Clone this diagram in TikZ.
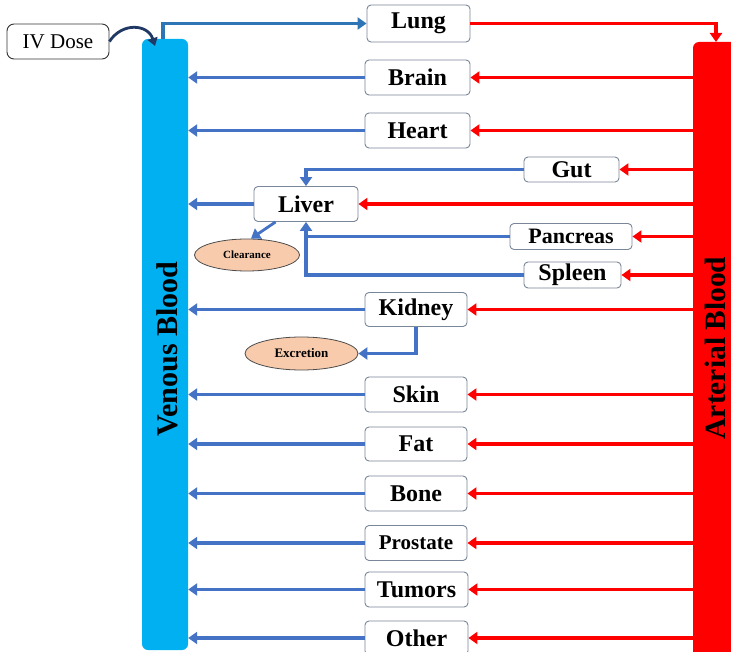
\documentclass[tikz,border=0pt]{standalone}
\usepackage{fontspec}
\setmainfont{Liberation Serif}
\usetikzlibrary{arrows.meta,shapes.geometric}
\definecolor{venc}{HTML}{00B0F0}
\definecolor{artc}{HTML}{FF0000}
\definecolor{bluec}{HTML}{4472C4}
\definecolor{lungc}{HTML}{2E75B6}
\definecolor{navyc}{HTML}{203864}
\definecolor{boxc}{HTML}{7A8798}
\definecolor{ellc}{HTML}{F8CBAD}
\tikzset{
  organ/.style={draw=boxc, line width=0.9pt, rounded corners=4pt, fill=white, inner sep=0pt,
    font=\fontsize{24}{27}\selectfont\bfseries},
  outlet/.style={ellipse, draw=black!70, line width=0.8pt, fill=ellc, inner sep=0pt},
  bar/.style={rounded corners=6pt, inner sep=0pt},
  bartext/.style={rotate=90, inner sep=0pt, anchor=base},
  blueline/.style={draw=bluec, line width=3.3pt},
  bluearr/.style={blueline, -{Triangle[length=9pt,width=12pt]}},
  redarr/.style={draw=artc, line width=3.3pt, -{Triangle[length=9pt,width=12pt]}},
}
\begin{document}
\begin{tikzpicture}[x=1pt,y=-1pt]
\clip (0,0) rectangle (731,652);
\fill[white] (0,0) rectangle (731,652);
% bars
\node[bar, fill=venc, minimum width=46pt, minimum height=611pt] (ven) at (165,344.5) {};
\node[bar, fill=artc, minimum width=50pt, minimum height=630pt] (art) at (718,357) {};
\node[bartext, font=\fontsize{30}{33}\selectfont\bfseries] (ventext) at (177,349) {Venous Blood};
\node[bartext, font=\fontsize{29.5}{32}\selectfont\bfseries] (arttext) at (725,348) {Arterial Blood};
% IV dose
\node[draw=black!80, line width=0.9pt, rounded corners=7pt, minimum width=102pt, minimum height=35pt, inner sep=0pt,
  font=\fontsize{21}{24}\selectfont] (iv) at (58,41.5) {IV Dose};
\coordinate (ivend) at (155,46);
\draw[navyc, line width=2.8pt, -{Triangle[length=8pt,width=10pt]}] (iv.east) .. controls (122,22) and (148,24) .. (ivend);
% organs
\node[organ, minimum width=103pt, minimum height=37pt] (lung) at (418.5,23.5) {Lung};
\node[organ, minimum width=105pt, minimum height=35pt] (brain) at (417.5,77.5) {Brain};
\node[organ, minimum width=105pt, minimum height=35pt] (heart) at (417.5,130.5) {Heart};
\node[organ, minimum width=95pt, minimum height=25pt] (gut) at (571.5,169.5) {Gut};
\node[organ, minimum width=104pt, minimum height=35pt] (liver) at (306,204) {Liver};
\node[organ, minimum width=122pt, minimum height=26pt, font=\fontsize{22}{25}\selectfont\bfseries] (pancreas) at (571,236.5) {Pancreas};
\node[organ, minimum width=97pt, minimum height=26pt] (spleen) at (572.5,275) {Spleen};
\node[organ, minimum width=102pt, minimum height=34pt] (kidney) at (416,309.5) {Kidney};
\node[organ, minimum width=102pt, minimum height=35pt] (skin) at (416,394.5) {Skin};
\node[organ, minimum width=102pt, minimum height=34pt] (fat) at (416,444) {Fat};
\node[organ, minimum width=102pt, minimum height=35pt] (bone) at (416,493.5) {Bone};
\node[organ, minimum width=102pt, minimum height=35pt, font=\fontsize{21}{24}\selectfont\bfseries] (prostate) at (416,543) {Prostate};
\node[organ, minimum width=103pt, minimum height=35pt] (tumors) at (416.5,589.5) {Tumors};
\node[organ, minimum width=103pt, minimum height=34pt] (other) at (416.5,638) {Other};
% outlets
\node[outlet, minimum width=105pt, minimum height=32pt, font=\fontsize{11}{13}\selectfont\bfseries] (clear) at (247,255) {Clearance};
\node[outlet, minimum width=113pt, minimum height=33pt, font=\fontsize{13}{15}\selectfont\bfseries] (excr) at (301.5,353.5) {Excretion};
% lung loop
\coordinate (vtop) at (163,39);
\coordinate (atop) at (716,42);
\draw[lungc, line width=3.3pt, -{Triangle[length=9pt,width=12pt]}] (vtop) |- (lung.west);
\draw[redarr] (lung.east) -| (atop);
% organs with arterial in and venous out
\foreach \o in {brain,heart,kidney,skin,fat,bone,prostate,tumors,other,liver}{
  \draw[redarr] (\o.east -| art.west) -- (\o.east);
  \draw[bluearr] (\o.west) -- (\o.west -| ven.east);
}
% splanchnic organs
\foreach \o in {gut,pancreas,spleen}{
  \draw[redarr] (\o.east -| art.west) -- (\o.east);
}
\draw[bluearr] (gut.west) -| (liver.north);
\draw[blueline] (pancreas.west) -- (pancreas.west -| liver.south);
\draw[bluearr] (spleen.west) -| (liver.south);
% clearance and excretion
\draw[bluearr, line width=2.8pt] ([xshift=22pt]liver.south west) -- ([xshift=4pt]clear.north);
\draw[bluearr] (kidney.south) |- (excr.east);
\end{tikzpicture}
\end{document}
